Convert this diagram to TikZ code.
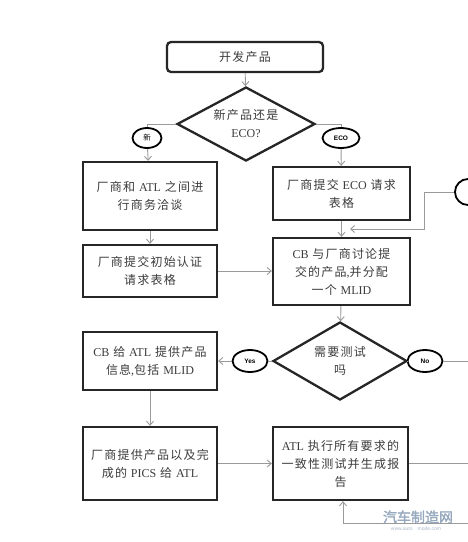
\documentclass[tikz,border=0pt]{standalone}
\usepackage{fontspec}
\setmainfont[LetterSpace=10]{Noto Sans CJK SC}
\newfontfamily\lat{Liberation Serif}
\newfontfamily\sfl{Liberation Sans}
\newfontfamily\wmfont[FakeBold=2]{Noto Sans CJK SC}
\usetikzlibrary{shapes.geometric,arrows.meta}
\definecolor{txt}{HTML}{3C3C3C}
\definecolor{edge}{HTML}{9A9A9A}
\definecolor{wm}{HTML}{97A9BE}
\tikzset{
  box/.style={draw=black!85, line width=2.3pt, fill=white, align=center, inner sep=2pt,
    font=\fontsize{12}{18}\selectfont, text=txt},
  dia/.style={diamond, draw=black!85, line width=2.3pt, fill=white, align=center, inner sep=0pt,
    aspect=1.8, font=\fontsize{12}{18}\selectfont, text=txt},
  lab/.style={ellipse, draw=black, line width=1.8pt, fill=white, inner sep=0pt,
    minimum height=20pt, font=\sfl\bfseries\fontsize{6.5}{7}\selectfont},
  arr/.style={draw=edge, line width=0.9pt, -{Straight Barb[length=4pt,width=7pt]}},
  ln/.style={draw=edge, line width=0.9pt}
}
\begin{document}
\begin{tikzpicture}[x=1pt,y=-1pt]
\fill[white] (0,0) rectangle (468,542);
\clip (0,0) rectangle (468,542);

% nodes
\node[box, rounded corners=4pt, minimum width=156pt, minimum height=30pt] (top) at (245,57) {开发产品};
\node[dia, minimum width=138pt, minimum height=74pt] (d1) at (246,124) {新产品还是\\{\lat ECO?}};
\node[lab, minimum width=29pt, font=\fontsize{7.5}{8}\selectfont] (new) at (147,138) {新};
\node[lab, minimum width=37pt] (eco) at (341,138) {ECO};

\node[box, minimum width=134pt, minimum height=68pt] (A) at (150,196) {厂商和 {\lat ATL} 之间进\\行商务洽谈};
\node[box, minimum width=137pt, minimum height=53pt] (B) at (341.5,193.5) {厂商提交 {\lat ECO} 请求\\表格};
\node[box, minimum width=134pt, minimum height=52pt] (C) at (150,271) {厂商提交初始认证\\请求表格};
\node[box, minimum width=137pt, minimum height=67pt] (D) at (341.5,271.5) {{\lat CB} 与厂商讨论提\\交的产品{\lat ,}并分配\\一个 {\lat MLID}};

\node[lab, minimum width=26pt, minimum height=26pt] (rc) at (468,192) {};

\node[dia, minimum width=134pt, minimum height=78pt] (d2) at (340,361) {需要测试\\吗};
\node[lab, minimum width=35pt, minimum height=22pt] (yes) at (250,361) {Yes};
\node[lab, minimum width=35pt, minimum height=22pt] (no) at (425,361) {No};

\node[box, minimum width=134pt, minimum height=58pt] (E) at (150,361) {{\lat CB} 给 {\lat ATL} 提供产品\\信息{\lat ,}包括 {\lat MLID}};
\node[box, minimum width=134pt, minimum height=73pt] (F) at (150,463.5) {厂商提供产品以及完\\成的 {\lat PICS} 给 {\lat ATL}};
\node[box, minimum width=135pt, minimum height=73pt] (G) at (340.5,463.5) {{\lat ATL} 执行所有要求的\\一致性测试并生成报\\告};

% watermark
\node[text=wm, font=\wmfont\fontsize{14}{14}\selectfont, inner sep=0pt] (wm1) at (418,517) {汽车制造网};
\node[text=wm!80, font=\sfl\fontsize{5}{5}\selectfont, inner sep=0pt] (wm2) at (416,529) {www.auto\quad mode.com};

% free ends
\coordinate (j1) at (424,192);
\coordinate (j2) at (424,229);
\coordinate (j3) at (350,229);
\coordinate (eNo) at (468,361);
\coordinate (eG) at (468,463.5);
\coordinate (eB) at (468,523);
\coordinate (eB2) at (343,523);

% connectors
\draw[arr] (top) -- (d1);
\draw[ln] (d1.west) -| (new.north);
\draw[ln] (d1.east) -| (eco.north);
\draw[arr] (new) -- (A);
\draw[arr] (eco) -- (B);
\draw[arr] (A) -- (C);
\draw[arr] (B) -- (D);
\draw[arr] (C.east) -- (D.west |- C.east);
\draw[arr] (rc.west) -- (j1) -- (j2) -- (j3);
\draw[arr] (D) -- (d2);
\draw[ln] (d2.west) -- (yes.east);
\draw[arr] (yes.west) -- (E.east);
\draw[ln] (d2.east) -- (no.west);
\draw[ln] (no.east) -- (eNo);
\draw[arr] (E) -- (F);
\draw[arr] (F) -- (G);
\draw[ln] (G.east) -- (eG);
\draw[arr] (eB) -- (eB2) -- (G.south -| eB2);
\end{tikzpicture}
\end{document}
